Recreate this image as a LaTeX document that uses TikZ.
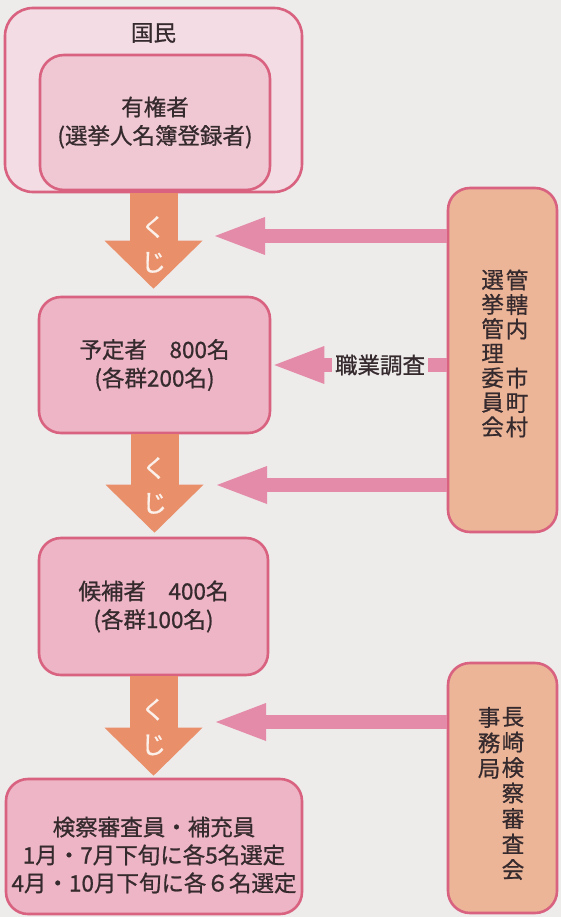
\documentclass[tikz,border=0pt]{standalone}
\usepackage{fontspec}
\newfontfamily\jpfont[FakeBold=0.8]{Noto Sans CJK JP}
\usepackage{tikz}
\usetikzlibrary{arrows.meta,positioning}
\definecolor{bg}{HTML}{EEEBEB}
\definecolor{pinkline}{HTML}{D8627F}
\definecolor{paleback}{HTML}{F3DCE3}
\definecolor{palepink}{HTML}{F0C8D4}
\definecolor{boxpink}{HTML}{EDB5C6}
\definecolor{peach}{HTML}{EDB598}
\definecolor{kujiorange}{HTML}{E9906A}
\definecolor{feedpink}{HTML}{E38BA8}
\definecolor{ink}{HTML}{352A2D}
\definecolor{kujiwhite}{HTML}{FBF0EA}
\tikzset{
  box/.style={draw=pinkline, line width=2.6pt, rounded corners=20pt, inner sep=0pt, text=ink, font=\jpfont\fontsize{22.5}{28.5}\selectfont, align=center},
  group/.style={box, fill=paleback, rounded corners=28pt},
  voters/.style={box, fill=palepink, rounded corners=24pt},
  stage/.style={box, fill=boxpink, rounded corners=22pt},
  office/.style={box, fill=peach, rounded corners=22pt},
  vcol/.style={text=ink, align=center, inner sep=0pt},
  kuji/.style={draw=kujiorange, line width=48pt, -{Triangle[length=48pt, width=98pt, line width=0pt]}},
  kujitext/.style={text=kujiwhite, font=\jpfont\fontsize{25}{35}\selectfont, align=center, inner sep=0pt},
  feed/.style={draw=feedpink, line width=14pt, -{Triangle[length=50pt, width=38pt, line width=0pt]}},
  lab/.style={text=ink, font=\jpfont\fontsize{22.5}{28}\selectfont, align=center, inner sep=0pt},
}
\begin{document}
\begin{tikzpicture}[x=1pt, y=-1pt]
\useasboundingbox (0,0) rectangle (561,917);
\fill[bg] (0,0) rectangle (561,917);

% left column
\node[group, minimum width=297pt, minimum height=184pt, label={[lab, yshift=67pt]center:国民}] (kokumin) at (153.5,100) {};
\node[voters, minimum width=230pt, minimum height=135pt] (yuken) at (155,122.5) {有権者\\(選挙人名簿登録者)};
\node[stage, minimum width=231pt, minimum height=136pt] (yotei) at (154.5,365) {予定者　800名\\(各群200名)};
\node[stage, minimum width=229pt, minimum height=137pt] (kouho) at (153.5,606.5) {候補者　400名\\(各群100名)};
\node[stage, minimum width=296pt, minimum height=135pt, label={[lab, yshift=-8.5pt]center:{検察審査員・補充員\\1月・7月下旬に各5名選定\\4月・10月下旬に各６名選定}}] (shinsa) at (154,846.5) {};

% right column
\node[office, minimum width=109pt, minimum height=344pt] (senkan) at (502.5,360) {};
\node[vcol, font=\jpfont\fontsize{22.5}{24.5}\selectfont] (senkanR) at (517,353.5) {管\\轄\\内\\　\\市\\町\\村};
\node[vcol, font=\jpfont\fontsize{22.5}{24.5}\selectfont, left=1.5pt of senkanR] (senkanL) {選\\挙\\管\\理\\委\\員\\会};
\node[office, minimum width=109pt, minimum height=250pt] (kensatsu) at (502.5,788) {};
\node[vcol, font=\jpfont\fontsize{22.5}{25.5}\selectfont] (kensatsuR) at (513,793.5) {長\\崎\\検\\察\\審\\査\\会};
\node[vcol, font=\jpfont\fontsize{22.5}{25.5}\selectfont, anchor=north east] (jimu) at ([xshift=-1pt]kensatsuR.north west) {事\\務\\局};

% lots
\draw[kuji, shorten >=7pt] (kokumin.south) -- (kokumin.south |- yotei.north) node[kujitext, midway] {く\\じ};
\draw[kuji, shorten >=4pt] (yotei.south) -- (yotei.south |- kouho.north) node[kujitext, midway] {く\\じ};
\draw[kuji, shorten >=2pt] (kouho.south) -- (kouho.south |- shinsa.north) node[kujitext, midway] {く\\じ};

% feeds from the offices
\coordinate (lot1) at (215,236);
\coordinate (lot2) at (217,485);
\coordinate (lot3) at (216,722);
\draw[feed] (senkan.west |- lot1) -- (lot1);
\draw[feed] (senkan.west |- lot2) -- (lot2);
\draw[feed] (kensatsu.west |- lot3) -- (lot3);
\draw[feed, shorten >=3pt] (senkan.west |- yotei.east) -- (yotei.east) node[lab, fill=bg, inner xsep=3pt, inner ysep=2pt, pos=0.38] {職業調査};
\end{tikzpicture}
\end{document}
